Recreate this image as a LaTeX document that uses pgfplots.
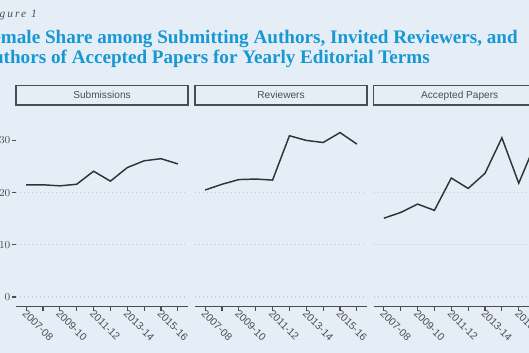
\documentclass[border=0pt]{standalone}
\usepackage{pgfplots}
\pgfplotsset{compat=1.18}
\usepackage{fontspec}
\setmainfont{Liberation Serif}
\newfontfamily\sansf{Liberation Sans}
\definecolor{bg}{RGB}{229,238,246}
\definecolor{titleblue}{RGB}{22,152,212}
\definecolor{txtgrey}{RGB}{77,77,77}
\definecolor{linegrey}{RGB}{51,51,51}
\definecolor{gridgrey}{RGB}{196,204,214}
\tikzset{grd/.style={draw=gridgrey, line width=0.8pt, dash pattern=on 0.8pt off 2.2pt}}
\pgfplotsset{
 panel/.style={
  scale only axis, width=129pt, height=151.3pt,
  anchor=south west,
  xmin=-0.6, xmax=9.6, ymin=-1.85, ymax=36.8,
  axis x line*=bottom, axis y line*=left,
  y axis line style={draw=none},
  x axis line style={draw=txtgrey, line width=1.1pt},
  xtick={0,...,9},
  xticklabels={2007-08,,2009-10,,2011-12,,2013-14,,2015-16,},
  ytick={0,10,20,30},
  tick align=outside, major tick length=3pt,
  tick style={draw=txtgrey, line width=0.8pt},
  x tick label style={rotate=-45, anchor=north west, font=\sansf\fontsize{7.8}{8}\selectfont, text=txtgrey, inner sep=0.5pt, yshift=2pt, xshift=-1pt},
  y tick label style={font=\sansf\fontsize{7.6}{8}\selectfont, text=txtgrey, inner sep=1pt},
 },
 noy/.style={yticklabels={}, ytick style={draw=none}},
 ln/.style={draw=linegrey, line width=1.1pt, mark=none},
}
\newcommand{\gridlines}{%
 \draw[grd] (axis cs:-0.6,0) -- (axis cs:9.6,0);
 \draw[grd] (axis cs:-0.6,10) -- (axis cs:9.6,10);
 \draw[grd] (axis cs:-0.6,20) -- (axis cs:9.6,20);}
\newcommand{\strip}[2]{%
 \draw[draw=txtgrey, line width=1.1pt] (#1,-64.3pt) rectangle ++(129pt,-14.45pt);
 \node[anchor=base, inner sep=0, font=\sansf\fontsize{7.6}{8}\selectfont, text=txtgrey] at ([xshift=64.5pt]#1,-74pt) {#2};}
\begin{document}
\begin{tikzpicture}
\path[use as bounding box] (0,0) rectangle (396.75pt,-264.75pt);
\clip (0,0) rectangle (396.75pt,-264.75pt);
\fill[bg] (0,0) rectangle (396.75pt,-264.75pt);
\node[anchor=base east, inner sep=0, text=txtgrey, font=\itshape\fontsize{8.5}{10}\selectfont\addfontfeatures{LetterSpace=18}] at (27.75pt,-13.1pt) {Figure 1};
\node[anchor=base east, inner sep=0, text=titleblue, font=\bfseries\fontsize{14.35}{16}\selectfont] at (388.5pt,-32.6pt) {Female Share among Submitting Authors, Invited Reviewers, and};
\node[anchor=base east, inner sep=0, text=titleblue, font=\bfseries\fontsize{14.35}{16}\selectfont] at (322.5pt,-47.3pt) {Authors of Accepted Papers for Yearly Editorial Terms};
\strip{12pt}{Submissions}
\strip{146.25pt}{Reviewers}
\strip{280.3pt}{Accepted Papers}
\begin{axis}[panel, at={(12pt,-230pt)}]
\gridlines
\addplot[ln] coordinates {(0,21.5) (1,21.5) (2,21.3) (3,21.6) (4,24.1) (5,22.2) (6,24.8) (7,26.1) (8,26.5) (9,25.5)};
\end{axis}
\begin{axis}[panel, noy, at={(146.25pt,-230pt)}]
\gridlines
\addplot[ln] coordinates {(0,20.5) (1,21.6) (2,22.5) (3,22.6) (4,22.4) (5,30.9) (6,30.0) (7,29.6) (8,31.5) (9,29.3)};
\end{axis}
\begin{axis}[panel, noy, at={(280.3pt,-230pt)}]
\gridlines
\addplot[ln] coordinates {(0,15.1) (1,16.2) (2,17.8) (3,16.6) (4,22.8) (5,20.8) (6,23.7) (7,30.5) (8,21.8) (9,29.5)};
\end{axis}
\end{tikzpicture}
\end{document}
